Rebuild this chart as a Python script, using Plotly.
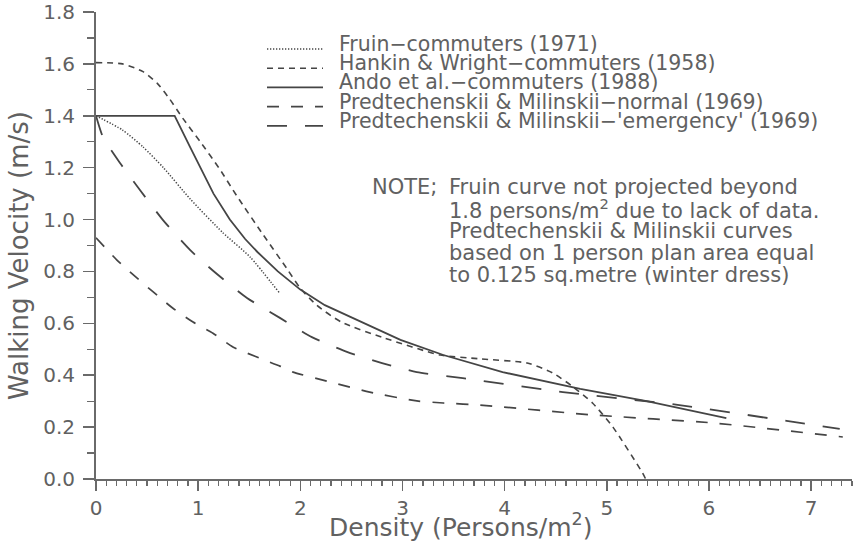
import plotly.graph_objects as go

# ---------------- data ----------------
fruin_x = [0, 0.26, 0.46, 0.66, 0.92, 1.24, 1.51, 1.80]
fruin_y = [1.40, 1.345, 1.28, 1.20, 1.08, 0.95, 0.855, 0.715]

hankin_x = [0, 0.26, 0.46, 0.60, 0.72, 0.85, 1.02, 1.21, 1.38, 1.63, 1.87, 2.0, 2.16,
            2.4, 2.81, 3.37, 3.76, 4.22, 4.47, 4.67, 4.86, 5.06, 5.35, 5.38]
hankin_y = [1.605, 1.60, 1.57, 1.525, 1.465, 1.39, 1.30, 1.195, 1.09, 0.945, 0.81, 0.735,
            0.67, 0.605, 0.545, 0.478, 0.463, 0.447, 0.409, 0.355, 0.293, 0.20, 0.023, 0.0]

ando_x = [0, 0.77, 0.92, 1.05, 1.15, 1.31, 1.46, 1.58, 1.78, 2.0, 2.24, 2.49, 2.98,
          3.40, 3.98, 4.74, 5.39, 6.17]
ando_y = [1.40, 1.40, 1.28, 1.18, 1.10, 1.00, 0.925, 0.875, 0.80, 0.73, 0.67, 0.625,
          0.536, 0.478, 0.412, 0.347, 0.30, 0.235]

normal_x = [0, 0.205, 0.40, 0.56, 0.75, 0.95, 1.145, 1.34, 1.575, 1.80, 1.93,
            2.29, 2.68, 3.14, 3.40, 3.76, 4.86, 6.04, 7.31]
normal_y = [0.93, 0.844, 0.775, 0.721, 0.659, 0.605, 0.562, 0.509, 0.47, 0.435, 0.412,
            0.374, 0.335, 0.301, 0.293, 0.285, 0.247, 0.216, 0.162]

emerg_x = [0, 0.068, 0.235, 0.43, 0.656, 0.92, 1.184, 1.478, 1.80, 2.113, 2.456,
           2.80, 3.14, 3.59, 4.57, 5.71, 6.76, 7.28]
emerg_y = [1.40, 1.318, 1.218, 1.114, 0.998, 0.883, 0.79, 0.698, 0.621, 0.547, 0.49,
           0.447, 0.412, 0.389, 0.335, 0.285, 0.224, 0.193]

series_names = [
    "Fruin\u2212commuters (1971)",
    "Hankin & Wright\u2212commuters (1958)",
    "Ando et al.\u2212commuters (1988)",
    "Predtechenskii & Milinskii\u2212normal (1969)",
    "Predtechenskii & Milinskii\u2212'emergency' (1969)",
]
note_first = "NOTE;"
note_lines = [
    "Fruin curve not projected beyond",
    "1.8 persons/m<sup>2</sup> due to lack of data.",
    "Predtechenskii & Milinskii curves",
    "based on 1 person plan area equal",
    "to 0.125 sq.metre (winter dress)",
]
x_title = "Density (Persons/m<sup>2</sup>)"
y_title = "Walking Velocity (m/s)"

# ---------------- styling ----------------
W, H = 863, 541
ML, MR, MT, MB = 96, 11, 12, 62
PW, PH = W - ML - MR, H - MT - MB
FONT = "DejaVu Sans"
TXT = "#616161"
LINE = "#454545"
AX = "#6a6a6a"

styles = [
    dict(dash="1.3px,1.7px", width=1.5),
    dict(dash="6px,5px", width=1.6),
    dict(dash="solid", width=1.8),
    dict(dash="12px,12px", width=1.7),
    dict(dash="20px,18px", width=1.8),
]
shapes_kind = [("spline", 0.6), ("spline", 0.6), ("linear", 0), ("spline", 0.6), ("spline", 0.6)]
data = [(fruin_x, fruin_y), (hankin_x, hankin_y), (ando_x, ando_y),
        (normal_x, normal_y), (emerg_x, emerg_y)]


def px(x):
    return (x - ML) / PW


def py(y):
    return (H - MB - y) / PH


fig = go.Figure()
for (xs, ys), st, (shp, sm), name in zip(data, styles, shapes_kind, series_names):
    line = dict(color=LINE, width=st["width"], dash=st["dash"], shape=shp)
    if shp == "spline":
        line["smoothing"] = sm
    fig.add_trace(go.Scatter(x=xs, y=ys, mode="lines", name=name, showlegend=False,
                             line=line, hoverinfo="skip"))

shapes = []
annotations = []
LS = 20.5
NS = 21
# manual legend
for i, (name, st) in enumerate(zip(series_names, styles)):
    ys = 49 + 19.2 * i
    shapes.append(dict(type="line", xref="paper", yref="paper",
                       x0=px(267), x1=px(323), y0=py(ys), y1=py(ys),
                       line=dict(color=LINE, width=st["width"], dash=st["dash"])))
    annotations.append(dict(text=name, xref="paper", yref="paper",
                            x=px(337), y=py(ys - 5), xanchor="left", yanchor="middle",
                            showarrow=False, font=dict(family=FONT, size=LS, color=TXT)))
# note
annotations.append(dict(text=note_first, xref="paper", yref="paper",
                        x=px(370), y=py(187), xanchor="left", yanchor="middle",
                        showarrow=False, font=dict(family=FONT, size=NS, color=TXT)))
for i, t in enumerate(note_lines):
    annotations.append(dict(text=t, xref="paper", yref="paper",
                            x=px(447), y=py(187 + 22 * i), xanchor="left", yanchor="middle",
                            showarrow=False, font=dict(family=FONT, size=NS, color=TXT)))
# axis titles
annotations.append(dict(text=x_title, xref="paper", yref="paper",
                        x=px(460), y=py(525), xanchor="center", yanchor="middle",
                        showarrow=False, font=dict(family=FONT, size=25, color=TXT)))
annotations.append(dict(text=y_title, xref="paper", yref="paper",
                        x=px(19), y=py(256), xanchor="center", yanchor="middle",
                        textangle=-90, showarrow=False,
                        font=dict(family=FONT, size=26, color=TXT)))

fig.update_layout(
    width=W, height=H,
    margin=dict(l=ML, r=MR, t=MT, b=MB, pad=0, autoexpand=False),
    paper_bgcolor="white", plot_bgcolor="white",
    shapes=shapes, annotations=annotations,
    showlegend=False,
    font=dict(family=FONT, color=TXT),
)
fig.update_xaxes(
    range=[0, 7.4], showgrid=False, zeroline=False, automargin=False,
    showline=True, linecolor=AX, linewidth=2,
    ticks="outside", ticklen=10, tickwidth=1.5, tickcolor=AX,
    tick0=0, dtick=1, tickfont=dict(family=FONT, size=20, color=TXT),
    minor=dict(ticks="outside", dtick=0.1, ticklen=5, tickwidth=1.2,
               tickcolor=AX, showgrid=False),
)
fig.update_yaxes(
    range=[0, 1.8], showgrid=False, zeroline=False, automargin=False,
    showline=True, linecolor=AX, linewidth=2,
    ticks="outside", ticklen=11, tickwidth=1.5, tickcolor=AX,
    tick0=0, dtick=0.2, tickformat=".1f", ticklabelstandoff=4,
    tickfont=dict(family=FONT, size=20, color=TXT),
    minor=dict(ticks="outside", dtick=0.1, ticklen=7, tickwidth=1.2,
               tickcolor=AX, showgrid=False),
)

fig.write_html(
    "out.html",
    config={"displayModeBar": False, "staticPlot": True},
    post_script="document.body.style.margin='0';document.body.style.overflow='hidden';",
)
